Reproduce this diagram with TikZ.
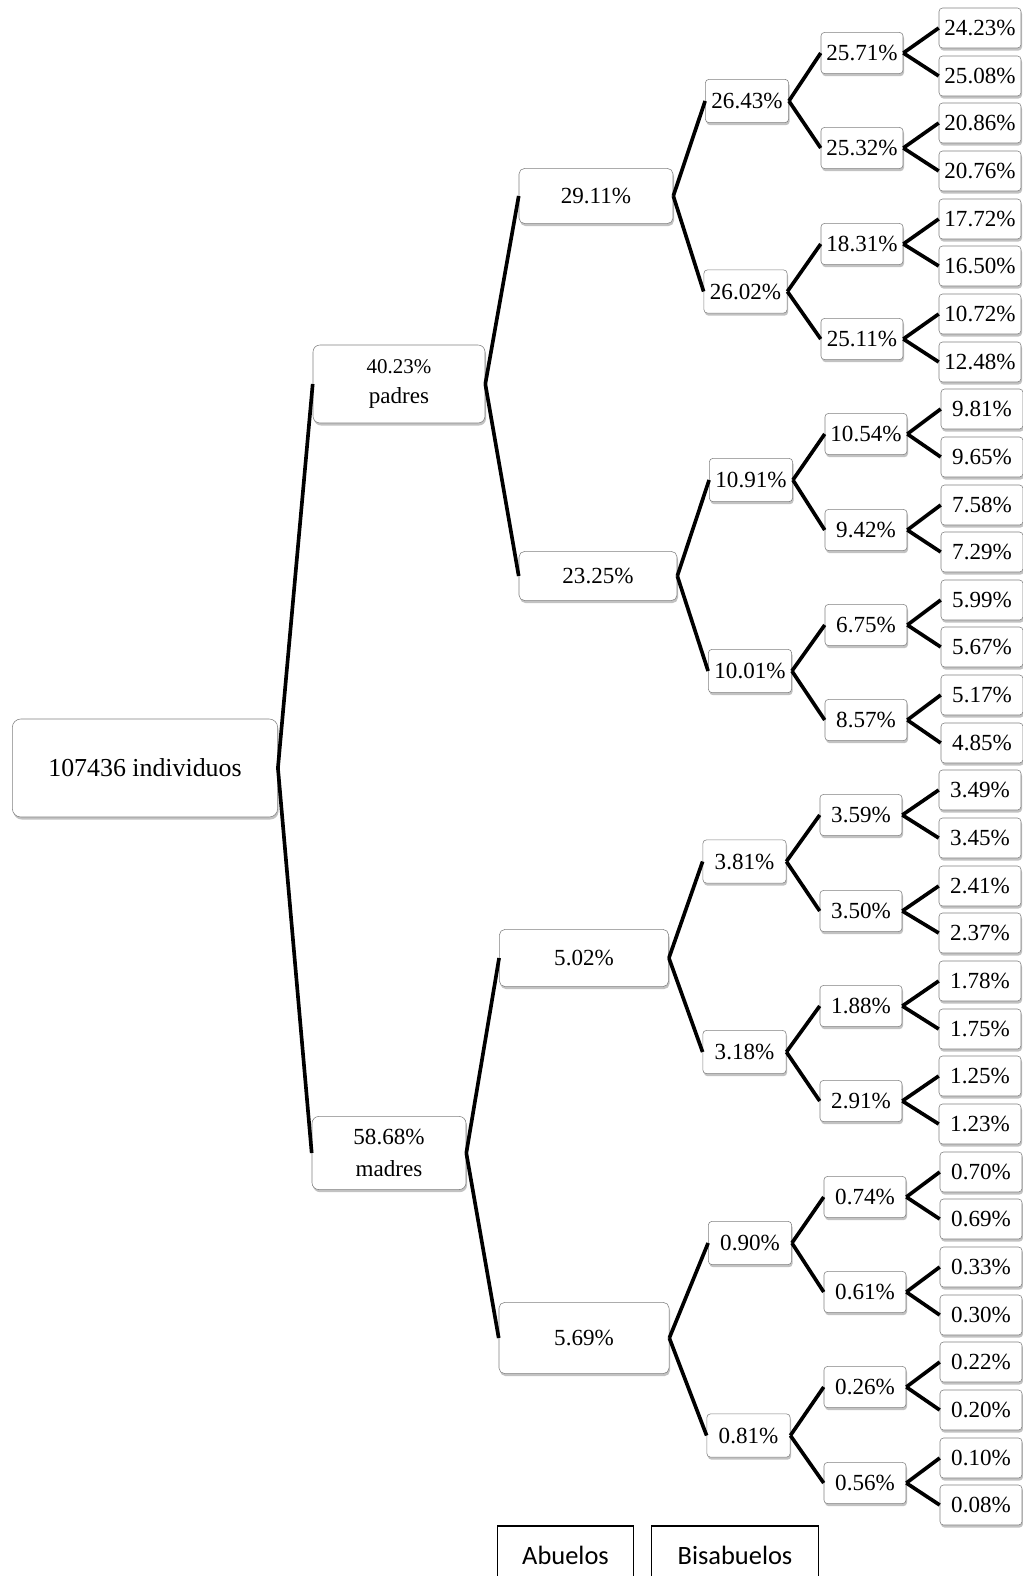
\documentclass[tikz,border=0pt]{standalone}
\usepackage{fontspec}
\setmainfont{Liberation Serif}
\newfontfamily\legendfont{Carlito}
\usetikzlibrary{shadows}

\begin{document}
\begin{tikzpicture}[
    font=\fontsize{16.4}{21}\selectfont,
      x=0.025cm, y=-0.025cm,
      cell/.style={rectangle, rounded corners=2.5pt, draw=black!50, fill=white, align=center, inner sep=0pt, drop shadow={shadow xshift=0.7pt, shadow yshift=-1.8pt, opacity=0.4, fill=black!60}},
      total/.style={cell, rounded corners=6pt, minimum width=6.63cm, minimum height=2.45cm, font=\fontsize{18.4}{22}\selectfont},
      parent/.style={cell, rounded corners=5pt},
      abuelo/.style={cell, rounded corners=4pt},
      bisabuelo/.style={cell, minimum width=2.08cm, minimum height=1.08cm},
      tatara/.style={cell, minimum width=2.05cm, minimum height=1.03cm},
      trasta/.style={cell, minimum width=2.05cm, minimum height=1.0cm},
      branch/.style={draw=black, line width=2.6pt},
      legend/.style={draw=black, line width=0.9pt}
    ]
      \useasboundingbox (0,0) rectangle (1023,1576);

      \node[total] (root) at (145,768) {107436 individuos};

      \node[parent, minimum width=4.3cm, minimum height=1.95cm] (padres) at (399,384) {{\fontsize{14.9}{18}\selectfont 40.23\%}\\padres};
      \node[parent, minimum width=3.85cm, minimum height=1.83cm] (madres) at (389,1153) {58.68\%\\[2pt]madres};

      \node[abuelo, minimum width=3.85cm, minimum height=1.38cm] (a1) at (596,196) {29.11\%};
      \node[abuelo, minimum width=3.95cm, minimum height=1.23cm] (a2) at (598,576) {23.25\%};
      \node[abuelo, minimum width=4.23cm, minimum height=1.43cm] (a3) at (584,958) {5.02\%};
      \node[abuelo, minimum width=4.25cm, minimum height=1.78cm] (a4) at (584,1338) {5.69\%};

      \node[bisabuelo] (b1) at (747,101) {26.43\%};
      \node[bisabuelo] (b2) at (745.5,291.5) {26.02\%};
      \node[bisabuelo] (b3) at (751,480) {10.91\%};
      \node[bisabuelo] (b4) at (750,671) {10.01\%};
      \node[bisabuelo] (b5) at (744.5,861.5) {3.81\%};
      \node[bisabuelo] (b6) at (744.5,1052) {3.18\%};
      \node[bisabuelo] (b7) at (750,1243) {0.90\%};
      \node[bisabuelo] (b8) at (748.5,1435.5) {0.81\%};

      \node[tatara] (t1) at (862,53) {25.71\%};
      \node[tatara] (t2) at (862,148) {25.32\%};
      \node[tatara] (t3) at (862,244) {18.31\%};
      \node[tatara] (t4) at (862,339) {25.11\%};
      \node[tatara] (t5) at (866,434) {10.54\%};
      \node[tatara] (t6) at (866,530) {9.42\%};
      \node[tatara] (t7) at (866,625) {6.75\%};
      \node[tatara] (t8) at (866,720) {8.57\%};
      \node[tatara] (t9) at (861,815) {3.59\%};
      \node[tatara] (t10) at (861,911) {3.50\%};
      \node[tatara] (t11) at (861,1006) {1.88\%};
      \node[tatara] (t12) at (861,1101) {2.91\%};
      \node[tatara] (t13) at (865,1197) {0.74\%};
      \node[tatara] (t14) at (865,1292) {0.61\%};
      \node[tatara] (t15) at (865,1387) {0.26\%};
      \node[tatara] (t16) at (865,1483) {0.56\%};

      \node[trasta] (c1) at (980,28) {24.23\%};
      \node[trasta] (c2) at (980,76) {25.08\%};
      \node[trasta] (c3) at (980,123) {20.86\%};
      \node[trasta] (c4) at (980,171) {20.76\%};
      \node[trasta] (c5) at (980,219) {17.72\%};
      \node[trasta] (c6) at (980,266) {16.50\%};
      \node[trasta] (c7) at (980,314) {10.72\%};
      \node[trasta] (c8) at (980,362) {12.48\%};
      \node[trasta] (c9) at (982,409) {9.81\%};
      \node[trasta] (c10) at (982,457) {9.65\%};
      \node[trasta] (c11) at (982,505) {7.58\%};
      \node[trasta] (c12) at (982,552) {7.29\%};
      \node[trasta] (c13) at (982,600) {5.99\%};
      \node[trasta] (c14) at (982,647) {5.67\%};
      \node[trasta] (c15) at (982,695) {5.17\%};
      \node[trasta] (c16) at (982,743) {4.85\%};
      \node[trasta] (c17) at (980,790) {3.49\%};
      \node[trasta] (c18) at (980,838) {3.45\%};
      \node[trasta] (c19) at (980,886) {2.41\%};
      \node[trasta] (c20) at (980,933) {2.37\%};
      \node[trasta] (c21) at (980,981) {1.78\%};
      \node[trasta] (c22) at (980,1029) {1.75\%};
      \node[trasta] (c23) at (980,1076) {1.25\%};
      \node[trasta] (c24) at (980,1124) {1.23\%};
      \node[trasta] (c25) at (981,1172) {0.70\%};
      \node[trasta] (c26) at (981,1219) {0.69\%};
      \node[trasta] (c27) at (981,1267) {0.33\%};
      \node[trasta] (c28) at (981,1315) {0.30\%};
      \node[trasta] (c29) at (981,1362) {0.22\%};
      \node[trasta] (c30) at (981,1410) {0.20\%};
      \node[trasta] (c31) at (981,1458) {0.10\%};
      \node[trasta] (c32) at (981,1505) {0.08\%};

      \node[minimum width=3.38cm, minimum height=1.45cm, anchor=north, font=\legendfont\fontsize{18.8}{22}\selectfont] (abuelos) at (565.5,1526) {Abuelos};
      \node[minimum width=4.15cm, minimum height=1.45cm, anchor=north, font=\legendfont\fontsize{18.8}{22}\selectfont] (bisabuelos) at (735,1526) {Bisabuelos};

      \draw[branch] (root.east) -- (padres.west);
      \draw[branch] (root.east) -- (madres.west);
      \draw[branch] (padres.east) -- (a1.west);
      \draw[branch] (padres.east) -- (a2.west);
      \draw[branch] (madres.east) -- (a3.west);
      \draw[branch] (madres.east) -- (a4.west);

      \draw[branch] (a1.east) -- (b1.west);
      \draw[branch] (a1.east) -- (b2.west);
      \draw[branch] (a2.east) -- (b3.west);
      \draw[branch] (a2.east) -- (b4.west);
      \draw[branch] (a3.east) -- (b5.west);
      \draw[branch] (a3.east) -- (b6.west);
      \draw[branch] (a4.east) -- (b7.west);
      \draw[branch] (a4.east) -- (b8.west);

      \draw[branch] (b1.east) -- (t1.west);
      \draw[branch] (b1.east) -- (t2.west);
      \draw[branch] (b2.east) -- (t3.west);
      \draw[branch] (b2.east) -- (t4.west);
      \draw[branch] (b3.east) -- (t5.west);
      \draw[branch] (b3.east) -- (t6.west);
      \draw[branch] (b4.east) -- (t7.west);
      \draw[branch] (b4.east) -- (t8.west);
      \draw[branch] (b5.east) -- (t9.west);
      \draw[branch] (b5.east) -- (t10.west);
      \draw[branch] (b6.east) -- (t11.west);
      \draw[branch] (b6.east) -- (t12.west);
      \draw[branch] (b7.east) -- (t13.west);
      \draw[branch] (b7.east) -- (t14.west);
      \draw[branch] (b8.east) -- (t15.west);
      \draw[branch] (b8.east) -- (t16.west);

      \draw[branch] (t1.east) -- (c1.west);
      \draw[branch] (t1.east) -- (c2.west);
      \draw[branch] (t2.east) -- (c3.west);
      \draw[branch] (t2.east) -- (c4.west);
      \draw[branch] (t3.east) -- (c5.west);
      \draw[branch] (t3.east) -- (c6.west);
      \draw[branch] (t4.east) -- (c7.west);
      \draw[branch] (t4.east) -- (c8.west);
      \draw[branch] (t5.east) -- (c9.west);
      \draw[branch] (t5.east) -- (c10.west);
      \draw[branch] (t6.east) -- (c11.west);
      \draw[branch] (t6.east) -- (c12.west);
      \draw[branch] (t7.east) -- (c13.west);
      \draw[branch] (t7.east) -- (c14.west);
      \draw[branch] (t8.east) -- (c15.west);
      \draw[branch] (t8.east) -- (c16.west);
      \draw[branch] (t9.east) -- (c17.west);
      \draw[branch] (t9.east) -- (c18.west);
      \draw[branch] (t10.east) -- (c19.west);
      \draw[branch] (t10.east) -- (c20.west);
      \draw[branch] (t11.east) -- (c21.west);
      \draw[branch] (t11.east) -- (c22.west);
      \draw[branch] (t12.east) -- (c23.west);
      \draw[branch] (t12.east) -- (c24.west);
      \draw[branch] (t13.east) -- (c25.west);
      \draw[branch] (t13.east) -- (c26.west);
      \draw[branch] (t14.east) -- (c27.west);
      \draw[branch] (t14.east) -- (c28.west);
      \draw[branch] (t15.east) -- (c29.west);
      \draw[branch] (t15.east) -- (c30.west);
      \draw[branch] (t16.east) -- (c31.west);
      \draw[branch] (t16.east) -- (c32.west);

      \draw[legend] (abuelos.south west) -- (abuelos.north west) -- (abuelos.north east) -- (abuelos.south east);
      \draw[legend] (bisabuelos.south west) -- (bisabuelos.north west) -- (bisabuelos.north east) -- (bisabuelos.south east);
    \end{tikzpicture}
\end{document}
